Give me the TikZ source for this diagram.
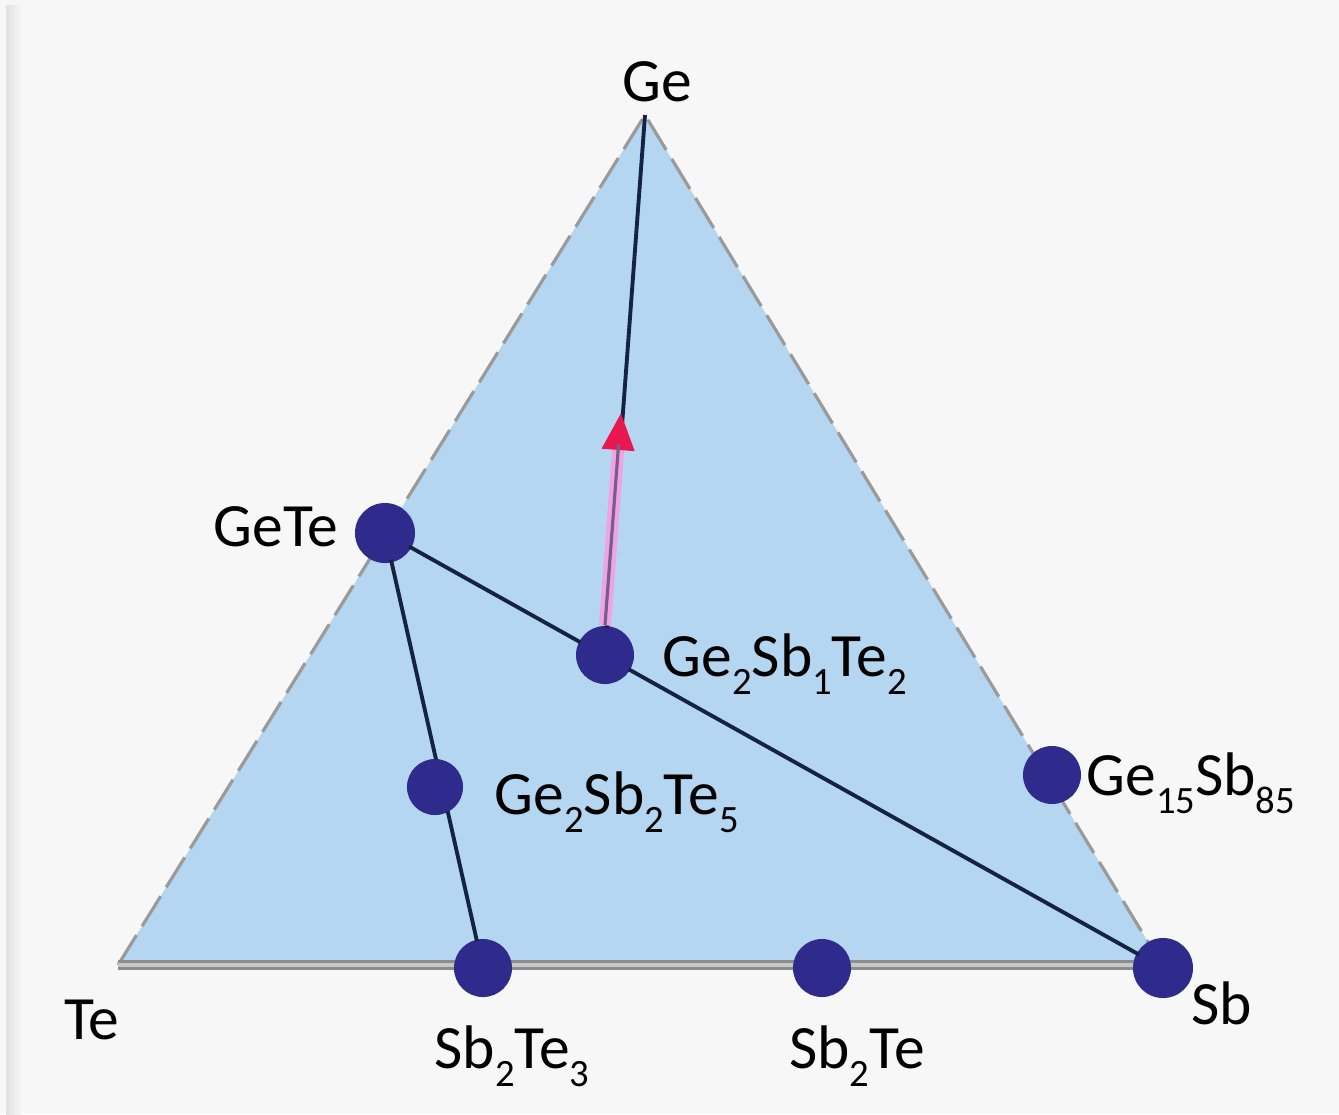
\documentclass[tikz,border=0pt]{standalone}
\usepackage{fontspec}
\setmainfont{Carlito}
\usetikzlibrary{arrows.meta,calc}
\definecolor{bgc}{HTML}{F7F7F7}
\definecolor{fillc}{HTML}{B4D6F1}
\definecolor{dotc}{HTML}{2E2B8C}
\definecolor{linec}{HTML}{14233F}
\definecolor{pinkc}{HTML}{EFA3E2}
\definecolor{redc}{HTML}{E8174F}
\definecolor{edgec}{HTML}{9A9A9A}
\newcommand{\chemsub}[1]{\raisebox{-0.6ex}{\fontsize{11}{12}\selectfont #1}}
\begin{document}
\begin{tikzpicture}[x=0.01cm,y=-0.01cm,
  dot/.style={circle,fill=dotc,draw=none,inner sep=0pt},
  lbl/.style={font=\fontsize{17.5}{20}\selectfont,text=black,inner sep=0pt},
  tie/.style={draw=linec,line width=1.1pt}]
\useasboundingbox (0,0) rectangle (1339,1114);
\fill[bgc] (0,0) rectangle (1339,1114);
\shade[left color=black!12,right color=bgc] (6,5) rectangle (22,1114);
% corners
\coordinate (Ge) at (645,115);
\coordinate (TeC) at (118,965);
\coordinate (SbC) at (1162,965);
% triangle
\fill[fillc] (Ge) -- (TeC) -- (SbC) -- cycle;
\draw[edgec,line width=0.9pt,dash pattern=on 10pt off 3pt] (TeC) -- (Ge) -- (SbC);
\draw[black!45,line width=3pt] (TeC) -- (SbC);
\draw[black!22,line width=1.2pt] (TeC) -- (SbC);
% dots (positions)
\node[dot,minimum size=0.6cm] (gete) at (385,533) {};
\node[dot,minimum size=0.58cm] (g212) at (605,655) {};
\node[dot,minimum size=0.56cm] (g225) at (435,787) {};
\node[dot,minimum size=0.58cm] (g1585) at (1052,775) {};
\node[dot,minimum size=0.58cm] (sb2te3) at (483,968) {};
\node[dot,minimum size=0.58cm] (sb2te) at (822,968) {};
\node[dot,minimum size=0.6cm] (sb) at (1163,968) {};
\coordinate (arrtip) at (621,412);
% tie lines
\draw[tie] (Ge) -- (g212.center);
\draw[tie] (gete.center) -- (sb.center);
\draw[tie] (gete.center) -- (sb2te3.center);
\draw[pinkc,line width=3.4pt,-{Triangle[length=0.38cm,width=0.3cm,color=redc,fill=redc]}] (g212.north) -- (arrtip);
\draw[linec!55!pinkc,line width=0.9pt] (g212.north) -- ($(g212.north)!0.85!(arrtip)$);
% dots drawn on top
\foreach \n in {gete,g212,g225,g1585,sb2te3,sb2te,sb}
  \fill[dotc] (\n) circle (0.275cm);
% labels
\node[lbl] (lGe) at (657,82) {Ge};
\node[lbl,anchor=east] (lGeTe) at (339,527) {GeTe};
\node[lbl,anchor=west] (lg212) at (662,664) {Ge\chemsub{2}Sb\chemsub{1}Te\chemsub{2}};
\node[lbl,anchor=west] (lg225) at (494,802) {Ge\chemsub{2}Sb\chemsub{2}Te\chemsub{5}};
\node[lbl,anchor=west] (lg1585) at (1086,783) {Ge\chemsub{15}Sb\chemsub{85}};
\node[lbl] (lTe) at (92,1020) {Te};
\node[lbl] (lsb2te3) at (512,1056) {Sb\chemsub{2}Te\chemsub{3}};
\node[lbl] (lsb2te) at (857,1056) {Sb\chemsub{2}Te};
\node[lbl] (lsb) at (1222,1003) {Sb};
\end{tikzpicture}
\end{document}
